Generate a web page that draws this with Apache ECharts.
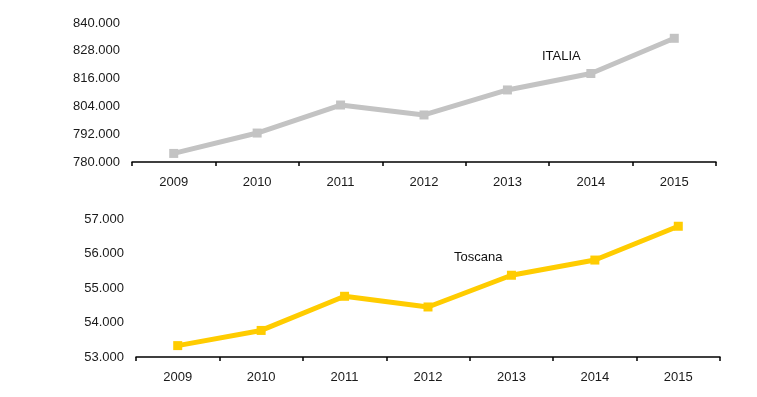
<!DOCTYPE html>
<html>
<head>
<meta charset="utf-8">
<script src="https://cdn.jsdelivr.net/npm/echarts@6/dist/echarts.min.js"></script>
<style>
  html, body { margin: 0; padding: 0; background: #fff; }
  #chart { width: 757px; height: 397px; }
</style>
</head>
<body>
<div id="chart"></div>
<script>
// dati
const anni = ['2009', '2010', '2011', '2012', '2013', '2014', '2015'];
const italia = [783700, 792500, 804600, 800300, 811100, 818200, 833400];
const toscana = [53330, 53770, 54760, 54450, 55370, 55810, 56790];

const fmt = v => String(Math.round(v)).replace(/\B(?=(\d{3})+(?!\d))/g, '.');
const font = 'Liberation Sans, Arial, sans-serif';

const xAxisBase = {
  type: 'category',
  data: anni,
  boundaryGap: true,
  axisLine: { lineStyle: { color: '#000', width: 1.5 } },
  axisTick: { show: true, inside: false, alignWithLabel: false, interval: 0, length: 4, lineStyle: { color: '#000', width: 1.5 } },
  axisLabel: { color: '#1a1a1a', fontSize: 13, fontFamily: font, margin: 14 }
};
const yAxisBase = {
  type: 'value',
  axisLine: { show: false },
  axisTick: { show: false },
  splitLine: { show: false },
  axisLabel: { color: '#1a1a1a', fontSize: 13, fontFamily: font, margin: 12, formatter: fmt }
};

let myChart = echarts.init(document.getElementById('chart'));
myChart.setOption({
  animation: false,
  backgroundColor: '#fff',
  grid: [
    { left: 132, right: 41, top: 23, height: 139 },
    { left: 136, right: 37, top: 219, height: 138 }
  ],
  xAxis: [
    Object.assign({ gridIndex: 0 }, xAxisBase),
    Object.assign({ gridIndex: 1 }, xAxisBase)
  ],
  yAxis: [
    Object.assign({ gridIndex: 0, min: 780000, max: 840000, interval: 12000 }, yAxisBase),
    Object.assign({ gridIndex: 1, min: 53000, max: 57000, interval: 1000 }, yAxisBase)
  ],
  series: [
    {
      type: 'line', xAxisIndex: 0, yAxisIndex: 0, data: italia,
      symbol: 'rect', symbolSize: 9,
      lineStyle: { color: '#c3c3c3', width: 5 },
      itemStyle: { color: '#c3c3c3' }
    },
    {
      type: 'line', xAxisIndex: 1, yAxisIndex: 1, data: toscana,
      symbol: 'rect', symbolSize: 9,
      lineStyle: { color: '#ffcc00', width: 5 },
      itemStyle: { color: '#ffcc00' }
    }
  ],
  graphic: [
    { type: 'text', left: 542, top: 50, style: { text: 'ITALIA', fill: '#111', font: '13px ' + font } },
    { type: 'text', left: 454, top: 251, style: { text: 'Toscana', fill: '#111', font: '13px ' + font } }
  ]
});
window.onresize = function () { myChart.resize(); };
</script>
</body>
</html>
